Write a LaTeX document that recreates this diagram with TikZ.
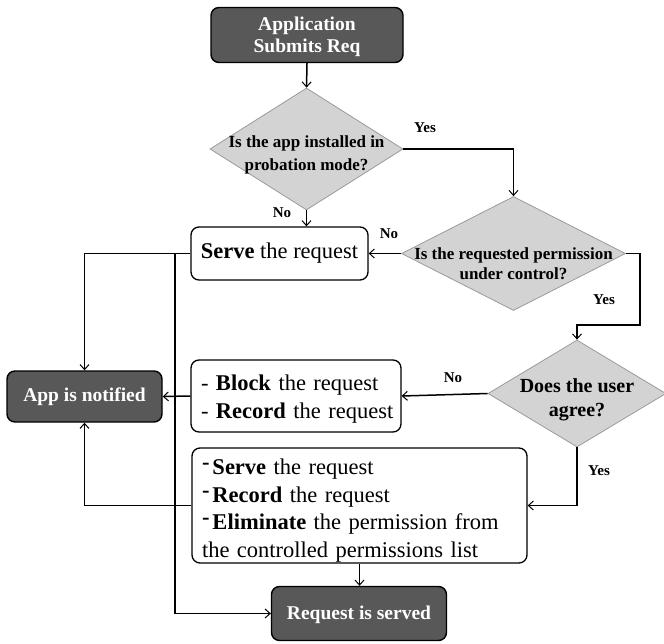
\documentclass[tikz,border=0pt]{standalone}
\usepackage{fontspec}
\setmainfont{Liberation Serif}
\usetikzlibrary{shapes.geometric,arrows.meta}
\definecolor{darkbox}{HTML}{585858}
\definecolor{dfill}{HTML}{D3D3D3}
\definecolor{dline}{HTML}{9A9A9A}
\newcommand{\hdash}{\raisebox{0.22em}{\textbf{-}}\hspace{3pt}}
\tikzset{
  darknode/.style={draw=black, line width=1.4pt, fill=darkbox, rounded corners=8pt,
    text=white, font=\bfseries\fontsize{19.5}{22}\selectfont, align=center, inner sep=0pt},
  whitebox/.style={draw=black, line width=1.3pt, fill=white, rounded corners=8pt,
    inner sep=0pt, font=\fontsize{22.5}{27.5}\selectfont},
  boxtext/.style={inner sep=0pt, align=left, font=\fontsize{22.5}{27.5}\selectfont},
  dec/.style={diamond, draw=dline, line width=0.8pt, fill=dfill, inner sep=0pt},
  dtext/.style={align=center, font=\bfseries\fontsize{17}{23}\selectfont},
  lbl/.style={font=\bfseries\fontsize{15}{18}\selectfont, inner sep=0pt},
  conn/.style={line width=1.5pt, -{Straight Barb[length=5pt,width=9pt,line width=1pt]}}
}
\begin{document}
\begin{tikzpicture}[x=1pt,y=-1pt]
\useasboundingbox (0,0) rectangle (664,643);
% nodes
\node[darknode, minimum width=192pt, minimum height=55pt] (start) at (307,35) {};
\node[darknode, draw=none, fill=none] (startt) at (307,37) {Application\\Submits Req};
\node[dec, minimum width=193pt, minimum height=122pt] (d1) at (306.5,149) {};
\node[dtext] (d1t) at (306.5,155) {Is the app installed in\\probation mode?};
\node[whitebox, minimum width=177pt, minimum height=53pt] (serve) at (279.5,253.5) {\textbf{Serve} the request};
\node[dec, minimum width=224pt, minimum height=114pt] (d2) at (513.5,253.5) {};
\node[dtext, font=\bfseries\fontsize{17}{20}\selectfont] (d2t) at (513.5,264) {Is the requested permission\\under control?};
\node[dec, minimum width=178pt, minimum height=107pt] (d3) at (577,393.5) {};
\node[dtext, font=\bfseries\fontsize{20}{24}\selectfont] (d3t) at (577,400) {Does the user\\agree?};
\node[whitebox, minimum width=210pt, minimum height=72pt] (block) at (296,396) {};
\node[boxtext, text width=194pt] (blockt) at (298,399)
  {- \textbf{Block} the request\\- \textbf{Record} the request};
\node[darknode, minimum width=155pt, minimum height=51pt] (app) at (84.5,396.5) {App is notified};
\node[whitebox, minimum width=335pt, minimum height=115pt] (big) at (359.5,505.5) {};
\node[boxtext, text width=317pt] (bigt) at (360.5,510.5)
  {\hdash\textbf{Serve} the request\\
   \hdash\textbf{Record} the request\\
   \hdash\textbf{Eliminate} the permission from\\
   the controlled permissions list};
\node[darknode, minimum width=175pt, minimum height=54pt] (req) at (359,613.5) {};
\node[darknode, draw=none, fill=none] (reqt) at (359,615) {Request is served};
% labels
\node[lbl] (y1) at (425,128) {Yes};
\node[lbl] (n1) at (282,213) {No};
\node[lbl] (n2) at (389,234) {No};
\node[lbl] (y2) at (604,300) {Yes};
\node[lbl] (n3) at (453,378) {No};
\node[lbl] (y3) at (599,471) {Yes};
% helper coordinates
\coordinate (c1) at (513.5,149);
\coordinate (c2) at (640,253.5);
\coordinate (c3) at (640,325);
\coordinate (c4) at (577,325);
\coordinate (c5) at (577,505.5);
\coordinate (c6) at (84.5,253.5);
\coordinate (c7) at (175,253.5);
\coordinate (c8) at (175,613.5);
\coordinate (c9) at (84.5,505.5);
% connectors
\draw[conn] (start.south) -- (d1.north);
\draw[conn] (d1.east) -- (c1) -- (d2.north);
\draw[conn] (d1.south) -- (d1.south |- serve.north);
\draw[conn] (d2.west) -- (serve.east);
\draw[conn] (d2.east) -- (c2) -- (c3) -- (c4) -- (d3.north);
\draw[conn] (d3.west) -- (block.east);
\draw[conn] (d3.south) -- (c5) -- (big.east);
\draw[conn] (block.west) -- (app.east);
\draw[conn] (serve.west) -- (c6) -- (app.north);
\draw[conn] (c7) -- (c8) -- (req.west);
\draw[conn] (big.west) -- (c9) -- (app.south);
\draw[conn] (big.south) -- (big.south |- req.north);
\end{tikzpicture}
\end{document}
